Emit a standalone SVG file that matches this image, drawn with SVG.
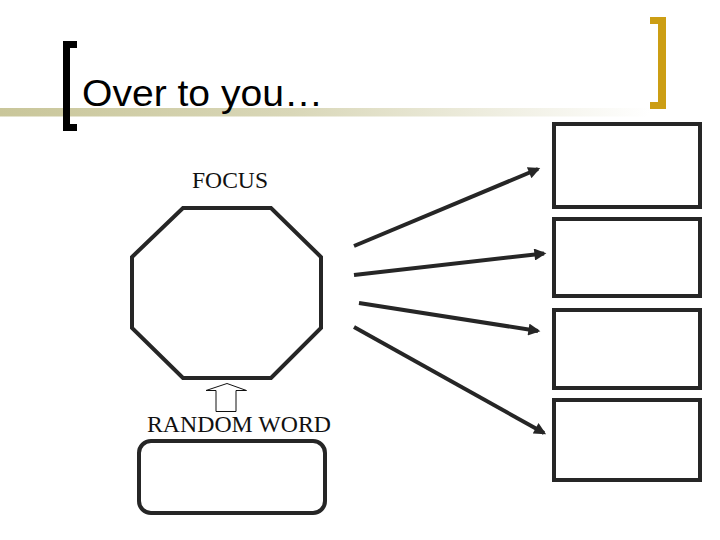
<svg xmlns="http://www.w3.org/2000/svg" width="720" height="540" viewBox="0 0 720 540">
<style>
.sh{fill:none;stroke:#262626;stroke-width:4}
.cn{stroke:#262626;stroke-width:4;fill:none;marker-end:url(#ah)}
.lbl{font-family:"Liberation Serif","Times New Roman",serif;font-size:23px;fill:#111}
</style>
<defs>
<linearGradient id="gl" x1="0" y1="0" x2="1" y2="0">
<stop offset="0" stop-color="#c9c69a"/>
<stop offset="0.45" stop-color="#d9d7b8"/>
<stop offset="1" stop-color="#ffffff"/>
</linearGradient>
<marker id="ah" viewBox="0 0 10 10" refX="8" refY="5" markerWidth="3.2" markerHeight="3" orient="auto" markerUnits="strokeWidth">
<path d="M0,0 L10,5 L0,10 z" fill="#262626"/>
</marker>
</defs>
<rect width="720" height="540" fill="#fff"/>
<g id="title">
<rect x="0" y="108" width="650" height="8.5" fill="url(#gl)"/>
<path d="M77,41 H63 V131 H77 V124 H70 V48 H77 z" fill="#000"/>
<path d="M650,17 H666 V109 H650 V102 H658 V24 H650 z" fill="#cc9e14"/>
<text x="82" y="106" font-family="Liberation Sans, Arial, sans-serif" font-size="36" textLength="241" lengthAdjust="spacingAndGlyphs" fill="#000">Over to you…</text>
</g>
<g id="focus">
<text class="lbl" x="230" y="188" text-anchor="middle" textLength="76" lengthAdjust="spacingAndGlyphs">FOCUS</text>
<polygon class="sh" points="183,208 271,208 321,257 321,328 271,378 183,378 132,328 132,257"/>
</g>
<g id="random-arrow">
<path d="M227,383.5 L246.5,390.5 H236 V411.5 H216 V390.5 H206 z" fill="#fff" stroke="#111" stroke-width="1"/>
</g>
<g id="random">
<text class="lbl" x="239" y="432" text-anchor="middle" textLength="184" lengthAdjust="spacingAndGlyphs">RANDOM WORD</text>
<rect class="sh" x="139" y="441" width="186" height="72" rx="12"/>
</g>
<g id="box1"><rect class="sh" x="554" y="124" width="146" height="83"/></g>
<g id="box2"><rect class="sh" x="554" y="219" width="146" height="77"/></g>
<g id="box3"><rect class="sh" x="554" y="310" width="146" height="78"/></g>
<g id="box4"><rect class="sh" x="554" y="400" width="146" height="80"/></g>
<g id="connectors">
<line class="cn" x1="354" y1="246" x2="538" y2="169"/>
<line class="cn" x1="354" y1="275" x2="544" y2="253.5"/>
<line class="cn" x1="359" y1="303" x2="538" y2="331"/>
<line class="cn" x1="354" y1="327" x2="544" y2="433"/>
</g>
</svg>
